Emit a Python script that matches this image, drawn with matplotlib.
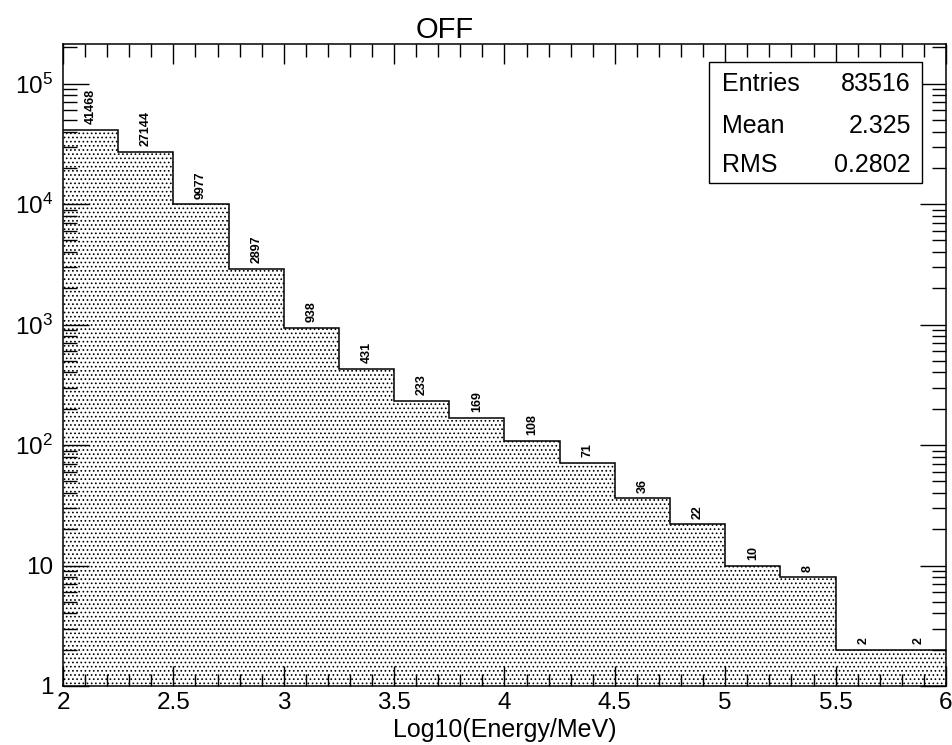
import matplotlib
matplotlib.use('Agg')
import matplotlib.pyplot as plt
import numpy as np
from matplotlib.ticker import MultipleLocator, LogLocator, FuncFormatter, NullFormatter
from matplotlib.patches import Rectangle

plt.rcParams['font.family'] = ['Liberation Sans', 'DejaVu Sans']
plt.rcParams['mathtext.fontset'] = 'custom'
plt.rcParams['mathtext.rm'] = 'Liberation Sans'
plt.rcParams['mathtext.it'] = 'Liberation Sans:italic'
plt.rcParams['mathtext.bf'] = 'Liberation Sans:bold'
plt.rcParams['hatch.linewidth'] = 0.7
plt.rcParams['hatch.color'] = 'black'

# ---- data ----
bin_edges = [2.0, 2.25, 2.5, 2.75, 3.0, 3.25, 3.5, 3.75, 4.0,
             4.25, 4.5, 4.75, 5.0, 5.25, 5.5, 5.75, 6.0]
counts = [41468, 27144, 9977, 2897, 938, 431, 233, 169, 108,
          71, 36, 22, 10, 8, 2, 2]
title_text = "OFF"
x_label = "Log10(Energy/MeV)"
stats_names = ["Entries", "Mean", "RMS"]
stats_values = ["83516", "2.325", "0.2802"]

W, H = 953, 745
fig = plt.figure(figsize=(W / 100, H / 100), dpi=100)
ax = fig.add_axes([63 / W, (H - 686) / H, (946 - 63) / W, (686 - 44) / H])

ax.set_yscale('log')
ax.set_xlim(2, 6)
ax.set_ylim(1, 2.13e5)

ax.stairs(counts, bin_edges, baseline=0.1, fill=True, facecolor='white',
          edgecolor='black', hatch='....', linewidth=0)
ax.stairs(counts, bin_edges, baseline=None, color='black', linewidth=1.1)

centers = [(a + b) / 2 for a, b in zip(bin_edges[:-1], bin_edges[1:])]
for xc, c in zip(centers, counts):
    ax.annotate(str(c), (xc, c), xytext=(0, 4), textcoords='offset points',
                rotation=90, ha='center', va='bottom', fontsize=9,
                fontweight='bold')

# ticks
ax.xaxis.set_major_locator(MultipleLocator(0.5))
ax.xaxis.set_minor_locator(MultipleLocator(0.1))
ax.yaxis.set_major_locator(LogLocator(base=10, numticks=10))
ax.yaxis.set_minor_locator(LogLocator(base=10, subs=np.arange(2, 10), numticks=20))
ax.yaxis.set_minor_formatter(NullFormatter())


def xfmt(v, pos):
    return f"{v:g}"


def yfmt(v, pos):
    e = int(round(np.log10(v)))
    if e == 0:
        return "1"
    if e == 1:
        return "10"
    return r"$10^{%d}$" % e


ax.xaxis.set_major_formatter(FuncFormatter(xfmt))
ax.yaxis.set_major_formatter(FuncFormatter(yfmt))

ax.tick_params(axis='both', which='both', direction='in', top=True, right=True,
               width=1.0, labelsize=17.5)
ax.tick_params(axis='x', which='major', length=14.5, pad=4)
ax.tick_params(axis='x', which='minor', length=9)
ax.tick_params(axis='y', which='major', length=19, pad=7)
ax.tick_params(axis='y', which='minor', length=10)
for sp in ax.spines.values():
    sp.set_linewidth(1.1)

fig.text(504.5 / W, 1 - 737 / H, x_label, ha='center', va='baseline', fontsize=18)

fig.text(445 / W, 1 - 38 / H, title_text, ha='center', va='baseline', fontsize=21)

# stats box
box = Rectangle((709 / W, 1 - 183 / H), (922 - 709) / W, (183 - 62) / H,
                transform=fig.transFigure, facecolor='white', edgecolor='black',
                linewidth=1.0, zorder=5)
fig.patches.append(box)
for name, val, yb in zip(stats_names, stats_values, [91, 133, 172]):
    fig.text(722 / W, 1 - yb / H, name, ha='left', va='baseline', fontsize=18, zorder=6)
    fig.text(911 / W, 1 - yb / H, val, ha='right', va='baseline', fontsize=18, zorder=6)

fig.savefig('out.png', dpi=100)
